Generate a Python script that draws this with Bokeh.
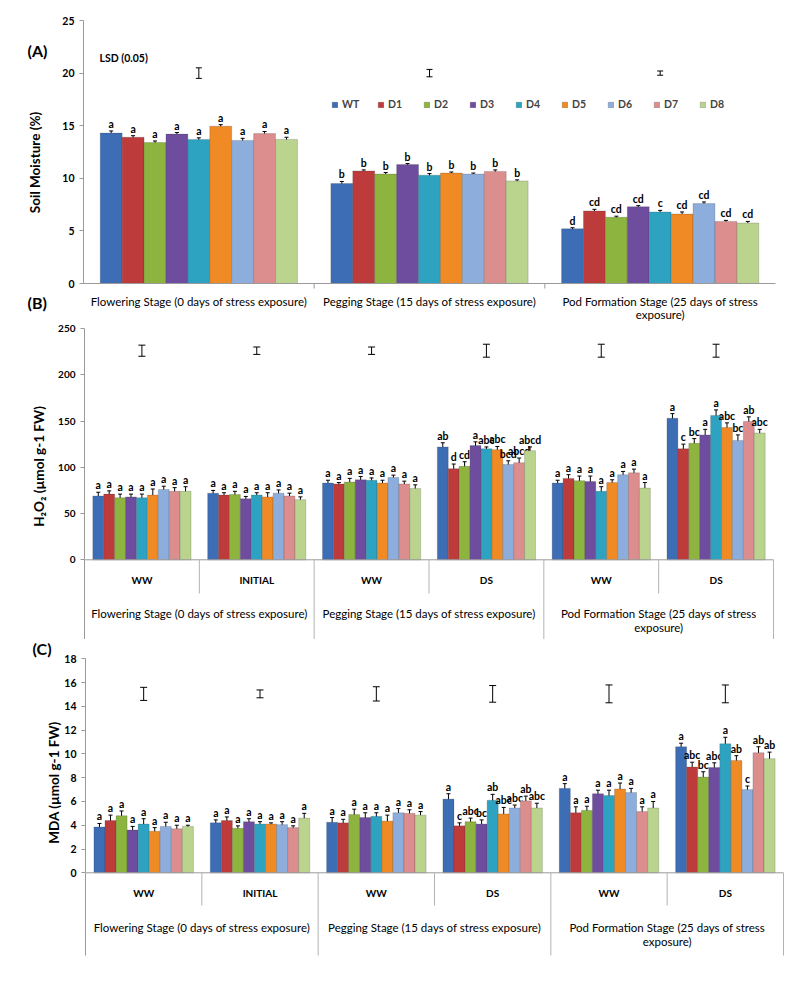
import math
from bokeh.plotting import figure
from bokeh.models import (ColumnDataSource, Range1d, Whisker, TeeHead,
                          Legend, LegendItem, FixedTicker)
from bokeh.layouts import column
from bokeh.core.properties import value
from bokeh.embed import file_html
from bokeh.resources import INLINE

FONT = "Lato"
AXIS_GRAY = "#9A9A9A"
SEP_GRAY = "#B4B4B4"

# ---------------- data ----------------
genotypes = ["WT", "D1", "D2", "D3", "D4", "D5", "D6", "D7", "D8"]
colors = ["#3D6DB5", "#BE3B3B", "#8CB43F", "#6E4C9E", "#2EA3C1",
          "#F08A24", "#8DAEDC", "#DC8D8D", "#BAD48E"]

stages = ["Flowering Stage (0 days of stress exposure)",
          "Pegging Stage (15 days of stress exposure)",
          "Pod Formation Stage (25 days of stress\nexposure)"]
conditions = ["WW", "INITIAL", "WW", "DS", "WW", "DS"]

# (A) soil moisture (%)
soil_flower = [14.3, 13.9, 13.4, 14.2, 13.7, 14.95, 13.6, 14.25, 13.7]
soil_flower_err = [0.2, 0.15, 0.15, 0.15, 0.15, 0.15, 0.2, 0.2, 0.2]
soil_flower_let = ["a", "a", "a", "a", "a", "a", "a", "a", "a"]
soil_peg = [9.5, 10.7, 10.4, 11.3, 10.3, 10.5, 10.4, 10.65, 9.75]
soil_peg_err = [0.2, 0.1, 0.15, 0.1, 0.15, 0.1, 0.1, 0.15, 0.1]
soil_peg_let = ["b", "b", "b", "b", "b", "b", "b", "b", "b"]
soil_pod = [5.2, 6.9, 6.3, 7.3, 6.8, 6.6, 7.6, 5.9, 5.75]
soil_pod_err = [0.1, 0.15, 0.1, 0.1, 0.15, 0.2, 0.15, 0.1, 0.15]
soil_pod_let = ["d", "cd", "cd", "cd", "c", "cd", "cd", "cd", "cd"]
soil_lsd = [1.0, 0.7, 0.4]
soil_lsd_at = 20.0

# (B) H2O2 (umol g-1 FW)
h2o2_flower_ww = [69, 71, 67, 68, 67, 70, 76, 74, 74]
h2o2_flower_ww_err = [4, 3.5, 4, 3, 4, 6.5, 3.5, 4, 5]
h2o2_flower_ww_let = ["a", "a", "a", "a", "a", "a", "a", "a", "a"]
h2o2_flower_init = [72, 70, 70.5, 66, 70, 68, 72, 69, 65]
h2o2_flower_init_err = [3, 2.5, 3.5, 2.5, 2.5, 4.5, 3.5, 3, 3]
h2o2_flower_init_let = ["a", "a", "a", "a", "a", "a", "a", "a", "a"]
h2o2_peg_ww = [83, 82, 84, 86.5, 86, 83, 89, 82, 77]
h2o2_peg_ww_err = [3, 1.5, 4, 3.5, 2.5, 3, 2.5, 3, 4]
h2o2_peg_ww_let = ["a", "a", "a", "a", "a", "a", "a", "a", "a"]
h2o2_peg_ds = [122, 98.5, 101, 123.5, 120, 119, 103, 105, 118]
h2o2_peg_ds_err = [4.5, 5, 5, 4, 2, 3.5, 4, 5, 4]
h2o2_peg_ds_let = ["ab", "d", "cd", "a", "abc", "abc", "bcd", "abcd", "abcd"]
h2o2_pod_ww = [83, 88, 85.5, 84.5, 74, 83.5, 92, 94, 77.5]
h2o2_pod_ww_err = [3, 4, 5, 6, 5, 3, 3.5, 4, 6]
h2o2_pod_ww_let = ["a", "a", "a", "a", "a", "a", "a", "a", "a"]
h2o2_pod_ds = [153, 120, 126, 135, 156, 143, 129, 149.5, 137]
h2o2_pod_ds_err = [5, 5, 5, 6, 6, 5, 6, 5, 4]
h2o2_pod_ds_let = ["a", "c", "bc", "a", "a", "abc", "bc", "ab", "abc"]
h2o2_lsd = [12, 8, 8, 14, 14, 14]
h2o2_lsd_at = 226.0

# (C) MDA (umol g-1 FW)
mda_flower_ww = [3.85, 4.4, 4.8, 3.6, 4.1, 3.5, 3.9, 3.7, 3.9]
mda_flower_ww_err = [0.3, 0.45, 0.4, 0.3, 0.45, 0.3, 0.35, 0.3, 0.1]
mda_flower_ww_let = ["a", "a", "a", "a", "a", "a", "a", "a", "a"]
mda_flower_init = [4.2, 4.4, 3.75, 4.3, 4.1, 4.1, 4.05, 3.8, 4.6]
mda_flower_init_err = [0.25, 0.3, 0.2, 0.25, 0.2, 0.1, 0.25, 0.15, 0.4]
mda_flower_init_let = ["a", "a", "a", "a", "a", "a", "a", "a", "a"]
mda_peg_ww = [4.25, 4.2, 4.9, 4.65, 4.75, 4.35, 5.05, 5.0, 4.85]
mda_peg_ww_err = [0.4, 0.3, 0.45, 0.4, 0.3, 0.5, 0.35, 0.3, 0.3]
mda_peg_ww_let = ["a", "a", "a", "a", "a", "a", "a", "a", "a"]
mda_peg_ds = [6.2, 3.95, 4.3, 4.1, 6.1, 4.95, 5.45, 6.05, 5.45]
mda_peg_ds_err = [0.45, 0.25, 0.3, 0.35, 0.5, 0.55, 0.25, 0.4, 0.4]
mda_peg_ds_let = ["a", "c", "abc", "bc", "ab", "abc", "abc", "ab", "abc"]
mda_pod_ww = [7.1, 5.05, 5.25, 6.65, 6.5, 7.05, 6.75, 5.15, 5.45]
mda_pod_ww_err = [0.4, 0.5, 0.35, 0.3, 0.45, 0.5, 0.35, 0.4, 0.55]
mda_pod_ww_let = ["a", "a", "a", "a", "a", "a", "a", "a", "a"]
mda_pod_ds = [10.6, 8.9, 8.05, 8.85, 10.85, 9.45, 7.0, 10.1, 9.6]
mda_pod_ds_err = [0.3, 0.4, 0.45, 0.4, 0.55, 0.4, 0.3, 0.5, 0.55]
mda_pod_ds_let = ["a", "abc", "bc", "abc", "a", "ab", "c", "ab", "ab"]
mda_lsd = [1.1, 0.66, 1.2, 1.4, 1.5, 1.5]
mda_lsd_at = 15.05

# ---------------- layout helpers ----------------
BW = 0.095
OFFS = [(i - 4) * BW for i in range(len(genotypes))]
PAGE_L, PAGE_R = 8, 792   # figure spans these page pixels horizontally

F_TICK = "10.5px"
F_LET = "10.5px"
F_STAGE = "11.5px"
F_COND = "10px"
F_YTITLE = "13.5px"
F_TAG = "16px"


class Geo:
    """Maps page-pixel layout positions to a panel's data coordinates."""

    def __init__(self, top, height, x0, x1, ngroups, y0, ytop, ytop_val):
        self.top, self.height = top, height
        self.x0, self.ppx = x0, (x1 - x0) / ngroups
        self.y0, self.ppy = y0, (y0 - ytop) / ytop_val

    def X(self, px):
        return (px - self.x0) / self.ppx

    def Y(self, py):
        return (self.y0 - py) / self.ppy


def make_fig(g, ymax, ticks, tick_size=F_TICK):
    p = figure(width=PAGE_R - PAGE_L, height=g.height,
               x_range=Range1d(g.X(PAGE_L), g.X(PAGE_R)),
               y_range=Range1d(g.Y(g.top + g.height), g.Y(g.top)),
               x_axis_location=None, output_backend="svg", toolbar_location=None,
               min_border_left=0, min_border_right=0, min_border_top=0, min_border_bottom=0)
    p.xgrid.visible = False
    p.ygrid.visible = False
    p.outline_line_color = None
    p.background_fill_color = "white"
    p.border_fill_color = "white"
    ax = p.yaxis[0]
    ax.fixed_location = 0
    ax.bounds = (0, ymax)
    ax.ticker = FixedTicker(ticks=ticks)
    ax.axis_line_color = AXIS_GRAY
    ax.major_tick_line_color = AXIS_GRAY
    ax.major_tick_out = 4
    ax.major_tick_in = 0
    ax.minor_tick_line_color = None
    ax.major_label_text_font = FONT
    ax.major_label_text_font_size = tick_size
    ax.major_label_text_font_style = "bold"
    ax.major_label_text_color = "black"
    ax.major_label_standoff = 5
    return p


def txt(p, xs, ys, texts, size, bold=False, align="center", baseline="middle", angle=0,
        line_height=1.1):
    p.text(x=xs, y=ys, text=texts, text_align=align, text_baseline=baseline, angle=angle,
           text_font=value(FONT), text_font_size=size,
           text_font_style="bold" if bold else "normal", text_color="black",
           text_line_height=line_height)


def whisker(src, head):
    return Whisker(source=src, base="x", upper="upper", lower="lower",
                   line_color="black", line_width=1,
                   upper_head=TeeHead(size=head, line_color="black", line_width=1),
                   lower_head=TeeHead(size=head, line_color="black", line_width=1))


def add_bars(p, groups, lsd, lsd_at, lsd_head):
    centers = [j + 0.5 for j in range(len(groups))]
    rends = []
    for i, g in enumerate(genotypes):
        xs = [c + OFFS[i] for c in centers]
        vals = [grp[0][i] for grp in groups]
        errs = [grp[1][i] for grp in groups]
        lets = [grp[2][i] for grp in groups]
        src = ColumnDataSource(dict(x=xs, top=vals,
                                    upper=[v + e for v, e in zip(vals, errs)],
                                    lower=[v - e for v, e in zip(vals, errs)],
                                    letter=lets))
        r = p.vbar(x="x", top="top", bottom=0, width=BW, source=src, fill_color=colors[i],
                   line_color="#333333", line_alpha=0.35, line_width=0.6)
        p.add_layout(whisker(src, 4))
        p.text(x="x", y="upper", text="letter", source=src, text_align="center",
               text_baseline="bottom", y_offset=-1, text_font=value(FONT),
               text_font_size=F_LET, text_font_style="bold", text_color="black")
        rends.append(r)
    lsrc = ColumnDataSource(dict(x=centers,
                                 upper=[lsd_at + l / 2 for l in lsd],
                                 lower=[lsd_at - l / 2 for l in lsd]))
    p.add_layout(whisker(lsrc, lsd_head))
    return rends


# ---------------- panel A ----------------
gA = Geo(top=0, height=322, x0=91, x1=783, ngroups=3, y0=283, ytop=20, ytop_val=25)
pA = make_fig(gA, 25, [0, 5, 10, 15, 20, 25])
soil_groups = [(soil_flower, soil_flower_err, soil_flower_let),
               (soil_peg, soil_peg_err, soil_peg_let),
               (soil_pod, soil_pod_err, soil_pod_let)]
rendsA = add_bars(pA, soil_groups, soil_lsd, soil_lsd_at, 6)
# category axis line and boundary ticks
pA.segment(x0=[0], y0=[0], x1=[3], y1=[0], line_color=AXIS_GRAY, line_width=1)
pA.segment(x0=[1, 2], y0=[0, 0], x1=[1, 2], y1=[gA.Y(288)] * 2, line_color=AXIS_GRAY, line_width=1)
txt(pA, [0.5, 1.5, 2.5], [gA.Y(294)] * 3, stages, F_STAGE, baseline="top", line_height=1.0)
txt(pA, [gA.X(42)], [gA.Y(162)], ["Soil Moisture (%)"], F_YTITLE, bold=True, angle=math.pi / 2)
txt(pA, [gA.X(35)], [gA.Y(50)], ["(A)"], F_TAG, bold=True, align="left")
txt(pA, [gA.X(107)], [gA.Y(57)], ["LSD (0.05)"], "10.5px", bold=True, align="left")
txt(pA, [gA.X(35)], [gA.Y(302)], ["(B)"], F_TAG, bold=True, align="left")

legend = Legend(items=[LegendItem(label=g, renderers=[r]) for g, r in zip(genotypes, rendsA)],
                orientation="horizontal", location=(331, 322 - 110), glyph_width=7, glyph_height=7,
                label_standoff=4, label_width=30, spacing=5, padding=0, margin=0,
                label_text_font=FONT, label_text_font_size="10.5px", label_text_font_style="bold",
                border_line_color=None, background_fill_alpha=0)
pA.add_layout(legend)


# ---------------- panels B and C ----------------
def table_panel(g, groups, lsd, lsd_at, ymax, ticks, ytitle, title_xy,
                cond_y, stage_y, sub_bottom, table_bottom, lsd_head=7, tick_size=F_TICK):
    p = make_fig(g, ymax, ticks, tick_size)
    add_bars(p, groups, lsd, lsd_at, lsd_head)
    n = len(conditions)
    yb = g.Y(table_bottom)
    ys = g.Y(sub_bottom)
    # baseline, borders and separators of the category table
    p.segment(x0=[0], y0=[0], x1=[n], y1=[0], line_color=AXIS_GRAY, line_width=1)
    p.segment(x0=[0], y0=[0], x1=[0], y1=[yb], line_color=AXIS_GRAY, line_width=1)
    x0s = list(range(1, n + 1))
    p.segment(x0=x0s, y0=[0] * n, x1=x0s, y1=[yb if j % 2 == 0 else ys for j in x0s],
              line_color=SEP_GRAY, line_width=1)
    txt(p, [j + 0.5 for j in range(n)], [g.Y(cond_y)] * n, conditions, F_COND, bold=True)
    txt(p, [1, 3, 5], [g.Y(stage_y)] * 3, stages, F_STAGE, baseline="top")
    txt(p, [g.X(title_xy[0])], [g.Y(title_xy[1])], [ytitle], F_YTITLE, bold=True,
        angle=math.pi / 2)
    return p


h2o2_groups = [(h2o2_flower_ww, h2o2_flower_ww_err, h2o2_flower_ww_let),
               (h2o2_flower_init, h2o2_flower_init_err, h2o2_flower_init_let),
               (h2o2_peg_ww, h2o2_peg_ww_err, h2o2_peg_ww_let),
               (h2o2_peg_ds, h2o2_peg_ds_err, h2o2_peg_ds_let),
               (h2o2_pod_ww, h2o2_pod_ww_err, h2o2_pod_ww_let),
               (h2o2_pod_ds, h2o2_pod_ds_err, h2o2_pod_ds_let)]
gB = Geo(top=322, height=317, x0=92, x1=781, ngroups=6, y0=559.3, ytop=328, ytop_val=250)
pB = table_panel(gB, h2o2_groups, h2o2_lsd, h2o2_lsd_at, 250, [0, 50, 100, 150, 200, 250],
                 "H\u2082O\u2082 (\u00b5mol g-1 FW)", (46.5, 466),
                 cond_y=579, stage_y=606, sub_bottom=593, table_bottom=639, tick_size="10px")

mda_groups = [(mda_flower_ww, mda_flower_ww_err, mda_flower_ww_let),
              (mda_flower_init, mda_flower_init_err, mda_flower_init_let),
              (mda_peg_ww, mda_peg_ww_err, mda_peg_ww_let),
              (mda_peg_ds, mda_peg_ds_err, mda_peg_ds_let),
              (mda_pod_ww, mda_pod_ww_err, mda_pod_ww_let),
              (mda_pod_ds, mda_pod_ds_err, mda_pod_ds_let)]
gC = Geo(top=639, height=349, x0=93, x1=791, ngroups=6, y0=872.3, ytop=658.3, ytop_val=18)
pC = table_panel(gC, mda_groups, mda_lsd, mda_lsd_at, 18, list(range(0, 19, 2)),
                 "MDA (\u00b5mol g-1 FW)", (61, 782),
                 cond_y=892, stage_y=920, sub_bottom=905, table_bottom=955)
txt(pC, [gC.X(40)], [gC.Y(648)], ["(C)"], F_TAG, bold=True, align="left")

layout = column(pA, pB, pC, spacing=0)
open("out.html", "w").write(file_html(layout, INLINE))
